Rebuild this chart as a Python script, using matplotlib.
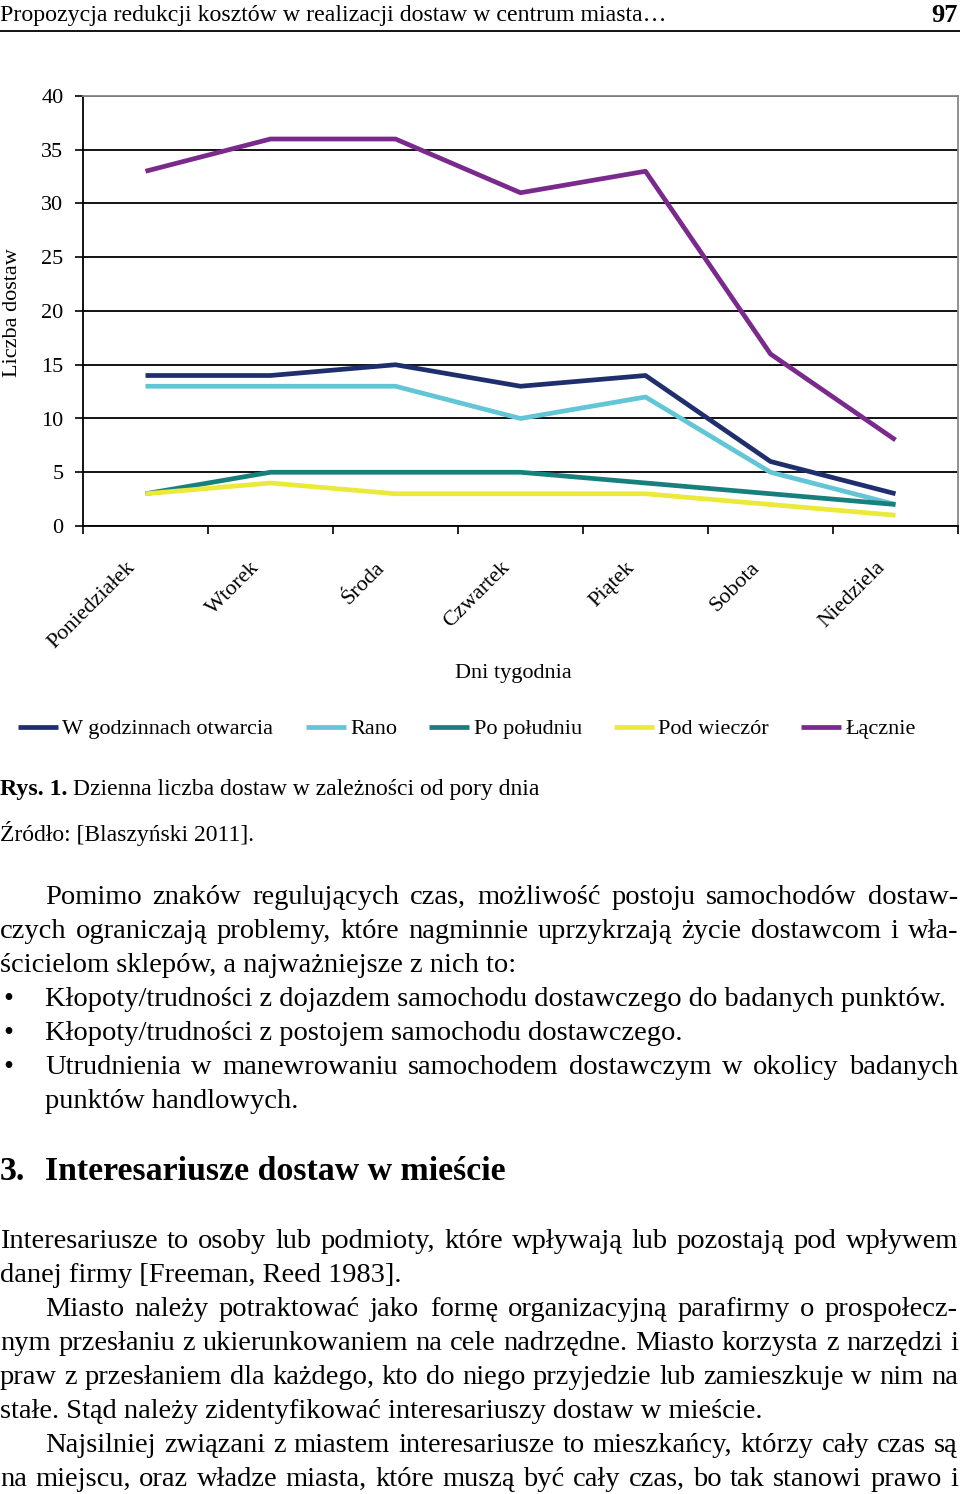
import matplotlib
matplotlib.use("Agg")
import matplotlib.pyplot as plt

# ======================
# |       DATA         |
# ======================
days = ["Poniedziałek", "Wtorek", "Środa", "Czwartek", "Piątek", "Sobota", "Niedziela"]
series_names = ["W godzinnach otwarcia", "Rano", "Po południu", "Pod wieczór", "Łącznie"]
godziny_otwarcia = [14, 14, 15, 13, 14, 6, 3]
rano = [13, 13, 13, 10, 12, 5, 2]
po_poludniu = [3, 5, 5, 5, 4, 3, 2]
pod_wieczor = [3, 4, 3, 3, 3, 2, 1]
lacznie = [33, 36, 36, 31, 33, 16, 8]
y_ticks = [0, 5, 10, 15, 20, 25, 30, 35, 40]

colors = ["#1f2f6e", "#62c6d6", "#17807c", "#ebe93a", "#7a2a8c"]

W, H = 960, 1494
plt.rcParams["font.family"] = ["Liberation Serif", "DejaVu Serif"]

fig = plt.figure(figsize=(W / 100, H / 100), dpi=100)


def fx(x):
    return x / W


def fy(y):
    return 1 - y / H


# ======================
# |      HEADER        |
# ======================
fig.text(fx(0), fy(16), "Propozycja redukcji kosztów w realizacji dostaw w centrum miasta…",
         fontsize=17.2, va="center", ha="left")
fig.text(fx(958), fy(15), "97", fontsize=19, fontweight="bold", va="center", ha="right")
fig.add_artist(plt.Line2D([0, 1], [fy(31), fy(31)], color="black", lw=1.3,
                          transform=fig.transFigure))

# ======================
# |       CHART        |
# ======================
CH = 16
ax = fig.add_axes([fx(83), fy(526), fx(958) - fx(83), fy(96) - fy(526)])
x = list(range(len(days)))
all_series = [godziny_otwarcia, rano, po_poludniu, pod_wieczor, lacznie]
handles = []
for vals, name, c in zip(all_series, series_names, colors):
    h, = ax.plot(x, vals, color=c, lw=3.4, solid_capstyle="butt", label=name, zorder=3)
    handles.append(h)

ax.set_xlim(-0.5, len(days) - 0.5)
ax.set_ylim(0, 40)
ax.set_yticks(y_ticks)
ax.set_yticklabels([str(v) for v in y_ticks], fontsize=CH)
ax.set_xticks([i - 0.5 for i in range(len(days) + 1)])
ax.set_xticklabels([])
ax.tick_params(axis="both", direction="out", length=6, width=1.2, color="black")
ax.tick_params(axis="y", pad=8)
ax.yaxis.grid(True, color="black", lw=1.3, zorder=1)
ax.set_axisbelow(True)
for s in ["left", "bottom"]:
    ax.spines[s].set_color("black")
    ax.spines[s].set_linewidth(1.3)
for s in ["top", "right"]:
    ax.spines[s].set_color("#888888")
    ax.spines[s].set_linewidth(1.3)

# Rotated day labels
for i, d in enumerate(days):
    ax.text(i - 0.16, -0.075, d, transform=ax.get_xaxis_transform(), rotation=45,
            rotation_mode="anchor", ha="right", va="top", fontsize=CH)

fig.text(fx(13), fy(313), "Liczba dostaw", rotation=90, fontsize=CH, va="center", ha="center")
fig.text(fx(513), fy(673), "Dni tygodnia", fontsize=CH, va="center", ha="center")

fig.legend(handles=handles, labels=series_names, loc="center", ncol=5,
           bbox_to_anchor=(fx(467), fy(729)), frameon=False, fontsize=CH,
           handlelength=1.8, handletextpad=0.2, columnspacing=1.45)

# ======================
# |      CAPTION       |
# ======================
fig.text(fx(0), fy(789), "Rys. 1.", fontsize=17.2, fontweight="bold", va="center", ha="left")
fig.text(fx(73), fy(789), "Dzienna liczba dostaw w zależności od pory dnia", fontsize=17,
         va="center", ha="left")
fig.text(fx(0), fy(833), "Źródło: [Blaszyński 2011].", fontsize=17, va="center", ha="left")

# ======================
# |     BODY TEXT      |
# ======================
renderer = fig.canvas.get_renderer()
BODY = 20.5


def line(y, s, x0=0, x1=None, size=BODY, weight="normal"):
    """Draw one line, justified between x0 and x1 (pixels) when x1 is given."""
    y = y + 2
    if x1 is None:
        fig.text(fx(x0), fy(y), s, fontsize=size, fontweight=weight, va="center", ha="left")
        return
    words = s.split(" ")
    widths = []
    for w in words:
        t = fig.text(0, 0, w, fontsize=size, fontweight=weight)
        widths.append(t.get_window_extent(renderer).width)
        t.remove()
    gap = (x1 - x0 - sum(widths)) / max(len(words) - 1, 1)
    xp = x0
    for w, wd in zip(words, widths):
        fig.text(fx(xp), fy(y), w, fontsize=size, fontweight=weight, va="center", ha="left")
        xp += wd + gap


line(895, "Pomimo znaków regulujących czas, możliwość postoju samochodów dostaw-", 45, 958)
line(929, "czych ograniczają problemy, które nagminnie uprzykrzają życie dostawcom i wła-", 0, 958)
line(963, "ścicielom sklepów, a najważniejsze z nich to:")
bullets = [(997, "Kłopoty/trudności z dojazdem samochodu dostawczego do badanych punktów.", None),
           (1031, "Kłopoty/trudności z postojem samochodu dostawczego.", None),
           (1065, "Utrudnienia w manewrowaniu samochodem dostawczym w okolicy badanych", 958)]
for y, s, end in bullets:
    fig.text(fx(3), fy(y + 2), "•", fontsize=BODY, va="center", ha="left")
    line(y, s, 45, end)
line(1099, "punktów handlowych.", 45)

fig.text(fx(0), fy(1171), "3.", fontsize=24.4, fontweight="bold", va="center", ha="left")
fig.text(fx(45), fy(1171), "Interesariusze dostaw w mieście", fontsize=24.4, fontweight="bold",
         va="center", ha="left")

line(1239, "Interesariusze to osoby lub podmioty, które wpływają lub pozostają pod wpływem", 0, 958)
line(1273, "danej firmy [Freeman, Reed 1983].")
line(1307, "Miasto należy potraktować jako formę organizacyjną parafirmy o prospołecz-", 45, 958)
line(1341, "nym przesłaniu z ukierunkowaniem na cele nadrzędne. Miasto korzysta z narzędzi i", 0, 958)
line(1375, "praw z przesłaniem dla każdego, kto do niego przyjedzie lub zamieszkuje w nim na", 0, 958)
line(1409, "stałe. Stąd należy zidentyfikować interesariuszy dostaw w mieście.")
line(1443, "Najsilniej związani z miastem interesariusze to mieszkańcy, którzy cały czas są", 45, 958)
line(1477, "na miejscu, oraz władze miasta, które muszą być cały czas, bo tak stanowi prawo i", 0, 958)

fig.savefig("out.png", dpi=100)
